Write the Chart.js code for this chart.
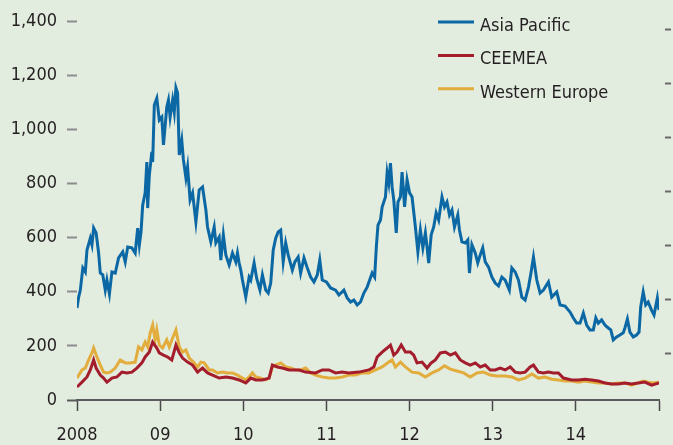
<!DOCTYPE html>
<html>
<head>
<meta charset="utf-8">
<script src="https://cdn.jsdelivr.net/npm/chart.js@4.4.0/dist/chart.umd.min.js"></script>
<style>
  html, body { margin: 0; padding: 0; background: #e2ecdf; overflow: hidden; }
  #wrap { position: relative; width: 673px; height: 460px; }
</style>
</head>
<body>
<div id="wrap"><canvas id="chart"></canvas></div>
<script>
// Asia Pacific
const apYears = [
  2008.00, 2008.02, 2008.04, 2008.07, 2008.10, 2008.12, 2008.16, 2008.18, 2008.20, 2008.23,
  2008.26, 2008.28, 2008.31, 2008.34, 2008.36, 2008.39, 2008.42, 2008.46, 2008.50, 2008.55,
  2008.58, 2008.61, 2008.66, 2008.70, 2008.73, 2008.75, 2008.77, 2008.79, 2008.82, 2008.84,
  2008.85, 2008.87, 2008.90, 2008.91, 2008.93, 2008.96, 2008.99, 2009.02, 2009.04, 2009.08,
  2009.10, 2009.12, 2009.15, 2009.17, 2009.19, 2009.21, 2009.23, 2009.26, 2009.28, 2009.31,
  2009.33, 2009.36, 2009.39, 2009.43, 2009.47, 2009.51, 2009.55, 2009.57, 2009.61, 2009.65,
  2009.67, 2009.71, 2009.73, 2009.76, 2009.79, 2009.83, 2009.87, 2009.91, 2009.93, 2009.95,
  2009.97, 2009.99, 2010.03, 2010.07, 2010.09, 2010.13, 2010.16, 2010.20, 2010.23, 2010.27,
  2010.30, 2010.33, 2010.36, 2010.39, 2010.42, 2010.45, 2010.48, 2010.51, 2010.54, 2010.59,
  2010.62, 2010.66, 2010.69, 2010.73, 2010.77, 2010.81, 2010.85, 2010.89, 2010.92, 2010.95,
  2011.00, 2011.05, 2011.11, 2011.15, 2011.21, 2011.25, 2011.29, 2011.33, 2011.37, 2011.41,
  2011.45, 2011.49, 2011.52, 2011.55, 2011.58, 2011.60, 2011.62, 2011.65, 2011.67, 2011.71,
  2011.73, 2011.75, 2011.77, 2011.79, 2011.81, 2011.84, 2011.86, 2011.89, 2011.91, 2011.94,
  2011.97, 2012.00, 2012.03, 2012.07, 2012.10, 2012.13, 2012.16, 2012.19, 2012.21, 2012.23,
  2012.26, 2012.29, 2012.32, 2012.35, 2012.39, 2012.42, 2012.45, 2012.48, 2012.51, 2012.54,
  2012.58, 2012.60, 2012.63, 2012.67, 2012.70, 2012.72, 2012.75, 2012.79, 2012.82, 2012.85,
  2012.88, 2012.91, 2012.95, 2012.99, 2013.03, 2013.07, 2013.11, 2013.15, 2013.20, 2013.23,
  2013.27, 2013.31, 2013.35, 2013.39, 2013.43, 2013.46, 2013.49, 2013.53, 2013.57, 2013.61,
  2013.67, 2013.71, 2013.77, 2013.81, 2013.87, 2013.93, 2013.97, 2014.01, 2014.05, 2014.09,
  2014.13, 2014.17, 2014.21, 2014.24, 2014.27, 2014.31, 2014.35, 2014.39, 2014.42, 2014.45,
  2014.49, 2014.53, 2014.57, 2014.59, 2014.62, 2014.65, 2014.69, 2014.73, 2014.76, 2014.78,
  2014.81, 2014.84, 2014.87, 2014.91, 2014.94, 2014.98, 2015.00
];
const apValues = [
  340, 380, 406, 488, 473, 554, 598, 573, 635, 617,
  543, 469, 462, 406, 443, 392, 473, 469, 525, 547,
  510, 565, 562, 543, 635, 573, 620, 720, 765, 879,
  709, 831, 916, 879, 1090, 1115, 1034, 1045, 942, 1082,
  1108, 1045, 1108, 1064, 1153, 1134, 905, 960, 887, 820,
  861, 739, 765, 658, 776, 787, 702, 639, 584, 639,
  580, 602, 517, 610, 536, 499, 543, 510, 543, 506,
  480, 443, 380, 454, 443, 506, 451, 406, 462, 406,
  395, 432, 554, 598, 621, 628, 510, 580, 536, 480,
  510, 528, 469, 525, 488, 454, 436, 462, 517, 443,
  436, 414, 406, 388, 406, 377, 362, 369, 351, 362,
  395, 417, 443, 469, 454, 565, 646, 665, 713, 750,
  839, 802, 875, 787, 739, 617, 731, 750, 842, 713,
  813, 765, 750, 639, 547, 628, 562, 617, 565, 506,
  610, 639, 691, 665, 750, 713, 731, 683, 702, 639,
  683, 628, 584, 580, 591, 469, 573, 543, 506, 536,
  562, 510, 491, 454, 432, 421, 454, 443, 406, 488,
  473, 443, 380, 369, 417, 469, 528, 443, 395, 406,
  436, 380, 399, 351, 347, 325, 303, 284, 284, 321,
  277, 259, 259, 303, 284, 296, 277, 266, 259, 222,
  233, 240, 248, 266, 299, 251, 233, 240, 251, 344,
  399, 351, 362, 332, 314, 377, 332
];

// CEEMEA
const emYears = [
  2008.00, 2008.06, 2008.12, 2008.16, 2008.20, 2008.23, 2008.28, 2008.32, 2008.36, 2008.42,
  2008.48, 2008.54, 2008.60, 2008.66, 2008.72, 2008.78, 2008.82, 2008.87, 2008.91, 2008.96,
  2008.99, 2009.04, 2009.09, 2009.14, 2009.19, 2009.23, 2009.27, 2009.33, 2009.39, 2009.45,
  2009.51, 2009.57, 2009.63, 2009.71, 2009.79, 2009.87, 2009.95, 2010.03, 2010.09, 2010.15,
  2010.23, 2010.31, 2010.35, 2010.41, 2010.47, 2010.55, 2010.67, 2010.75, 2010.87, 2010.95,
  2011.03, 2011.11, 2011.19, 2011.27, 2011.39, 2011.51, 2011.57, 2011.61, 2011.67, 2011.73,
  2011.77, 2011.81, 2011.85, 2011.90, 2011.95, 2012.01, 2012.05, 2012.09, 2012.15, 2012.21,
  2012.26, 2012.31, 2012.37, 2012.43, 2012.49, 2012.55, 2012.61, 2012.67, 2012.73, 2012.79,
  2012.85, 2012.91, 2012.97, 2013.03, 2013.09, 2013.15, 2013.21, 2013.27, 2013.33, 2013.39,
  2013.45, 2013.49, 2013.55, 2013.61, 2013.67, 2013.73, 2013.79, 2013.85, 2013.95, 2014.03,
  2014.11, 2014.19, 2014.27, 2014.35, 2014.43, 2014.51, 2014.59, 2014.67, 2014.75, 2014.83,
  2014.91, 2015.00
];
const emValues = [
  48, 66, 85, 111, 148, 118, 92, 81, 66, 81,
  85, 103, 100, 103, 118, 137, 159, 177, 214, 192,
  174, 166, 159, 148, 203, 174, 155, 140, 129, 103,
  118, 100, 92, 81, 85, 81, 74, 63, 81, 74,
  74, 81, 129, 122, 118, 111, 111, 103, 100, 111,
  111, 100, 103, 100, 103, 111, 122, 159, 177, 192,
  203, 166, 177, 203, 177, 177, 166, 137, 140, 118,
  137, 148, 174, 177, 166, 174, 148, 137, 129, 137,
  122, 129, 111, 111, 118, 111, 122, 103, 100, 103,
  122, 129, 103, 100, 103, 100, 100, 81, 74, 74,
  77, 74, 70, 63, 59, 59, 63, 59, 63, 66,
  55, 63
];

// Western Europe
const weYears = [
  2008.00, 2008.06, 2008.10, 2008.14, 2008.18, 2008.20, 2008.24, 2008.28, 2008.32, 2008.36,
  2008.40, 2008.46, 2008.52, 2008.58, 2008.64, 2008.70, 2008.74, 2008.78, 2008.82, 2008.85,
  2008.88, 2008.91, 2008.94, 2008.96, 2008.99, 2009.03, 2009.08, 2009.11, 2009.15, 2009.19,
  2009.23, 2009.27, 2009.31, 2009.35, 2009.40, 2009.45, 2009.49, 2009.53, 2009.59, 2009.63,
  2009.69, 2009.75, 2009.81, 2009.87, 2009.93, 2009.99, 2010.03, 2010.07, 2010.11, 2010.15,
  2010.21, 2010.27, 2010.31, 2010.35, 2010.39, 2010.45, 2010.51, 2010.57, 2010.63, 2010.69,
  2010.75, 2010.81, 2010.87, 2010.95, 2011.03, 2011.11, 2011.19, 2011.27, 2011.35, 2011.43,
  2011.51, 2011.59, 2011.67, 2011.75, 2011.79, 2011.83, 2011.89, 2011.95, 2012.03, 2012.11,
  2012.19, 2012.27, 2012.35, 2012.42, 2012.49, 2012.57, 2012.65, 2012.73, 2012.81, 2012.89,
  2012.97, 2013.05, 2013.15, 2013.23, 2013.31, 2013.39, 2013.47, 2013.55, 2013.63, 2013.71,
  2013.79, 2013.87, 2013.95, 2014.03, 2014.11, 2014.19, 2014.27, 2014.35, 2014.43, 2014.51,
  2014.59, 2014.67, 2014.75, 2014.81, 2014.87, 2014.93, 2015.00
];
const weValues = [
  81, 111, 118, 148, 174, 192, 159, 129, 103, 100,
  103, 118, 148, 137, 137, 140, 196, 185, 214, 196,
  247, 277, 222, 259, 203, 192, 222, 196, 229, 259,
  196, 177, 185, 155, 140, 122, 140, 137, 111, 111,
  100, 103, 100, 100, 92, 81, 74, 85, 100, 85,
  81, 74, 81, 122, 129, 137, 122, 118, 111, 111,
  118, 100, 92, 85, 81, 81, 85, 92, 92, 100,
  100, 111, 122, 140, 148, 122, 140, 122, 103, 100,
  85, 100, 111, 126, 114, 107, 100, 85, 100, 103,
  92, 89, 89, 85, 74, 81, 96, 81, 85, 77,
  74, 70, 70, 66, 70, 66, 63, 63, 59, 63,
  63, 55, 63, 70, 66, 63, 66
];

const seriesNames = ['Asia Pacific', 'CEEMEA', 'Western Europe'];
const yTicks = [0, 200, 400, 600, 800, 1000, 1200, 1400];
const xTicks = [2008, 2009, 2010, 2011, 2012, 2013, 2014, 2015];
const xTickLabels = ['2008', '09', '10', '11', '12', '13', '14', ''];
const rightTicks = [170, 370, 570, 770, 970, 1170, 1370];

const FONT = "'DejaVu Sans Condensed', 'Liberation Sans Narrow', sans-serif";
const TEXT = '#231f20';

function toPoints(xs, ys) {
    return xs.map((x, i) => ({ x: x, y: ys[i] }));
}

// legend drawn inside the plot, top right
const insideLegend = {
    id: 'insideLegend',
    afterDraw(chart) {
        const ctx = chart.ctx;
        ctx.save();
        ctx.font = '18px ' + FONT;
        ctx.fillStyle = TEXT;
        ctx.textBaseline = 'alphabetic';
        chart.data.datasets.forEach((ds, i) => {
            const y = 22 + i * 33.4;
            ctx.strokeStyle = ds.borderColor;
            ctx.lineWidth = 3;
            ctx.beginPath();
            ctx.moveTo(438, y);
            ctx.lineTo(474, y);
            ctx.stroke();
            ctx.fillText(ds.label, 480, y + 9);
        });
        ctx.restore();
    }
};

const ctx = document.getElementById('chart').getContext('2d');
const chart = new Chart(ctx, {
    type: 'line',
    data: {
        datasets: [
            { label: seriesNames[0], data: toPoints(apYears, apValues), borderColor: '#0b68a5' },
            { label: seriesNames[1], data: toPoints(emYears, emValues), borderColor: '#a31d2c' },
            { label: seriesNames[2], data: toPoints(weYears, weValues), borderColor: '#e2ad3c' },
        ],
    },
    options: {
        responsive: true,
        maintainAspectRatio: false,
        animation: false,
        layout: { padding: { top: 21, left: 0, right: 0, bottom: 0 } },
        plugins: { legend: { display: false }, tooltip: { enabled: false } },
        elements: {
            point: { radius: 0 },
            line: { borderWidth: 3, tension: 0 },
        },
        scales: {
            x: {
                type: 'linear',
                min: 2008,
                max: 2015,
                afterBuildTicks: s => { s.ticks = xTicks.map(v => ({ value: v })); },
                afterFit: s => { s.height = 60; },
                grid: { drawOnChartArea: false, tickLength: 11, tickColor: '#4a4a4a', tickWidth: 1.5 },
                border: { display: true, color: '#5b5b5b', width: 2 },
                ticks: {
                    autoSkip: false,
                    maxRotation: 0,
                    padding: 14,
                    color: TEXT,
                    font: { family: FONT, size: 18 },
                    callback: (v, i) => xTickLabels[i],
                },
            },
            y: {
                position: 'left',
                min: 0,
                max: 1400,
                afterBuildTicks: s => { s.ticks = yTicks.map(v => ({ value: v })); },
                afterFit: s => { s.width = 77; },
                grid: {
                    drawOnChartArea: false,
                    tickLength: 10,
                    tickWidth: 2,
                    tickColor: c => (c.tick && c.tick.value === 0 ? '#5b5b5b' : '#8c8c8c'),
                },
                border: { display: false },
                ticks: {
                    padding: 10,
                    color: TEXT,
                    font: { family: FONT, size: 18 },
                    callback: v => v.toLocaleString('en-US'),
                },
            },
            y2: {
                position: 'right',
                min: 0,
                max: 1400,
                afterBuildTicks: s => { s.ticks = rightTicks.map(v => ({ value: v })); },
                afterFit: s => { s.width = 12; },
                grid: {
                    drawOnChartArea: false,
                    tickLength: 12,
                    tickWidth: 2,
                    tickColor: '#6a6a6a',
                    tickBorderDash: [0, 6, 30],
                },
                border: { display: false },
                ticks: { display: false },
            },
        },
    },
    plugins: [insideLegend],
});
</script>
</body>
</html>
